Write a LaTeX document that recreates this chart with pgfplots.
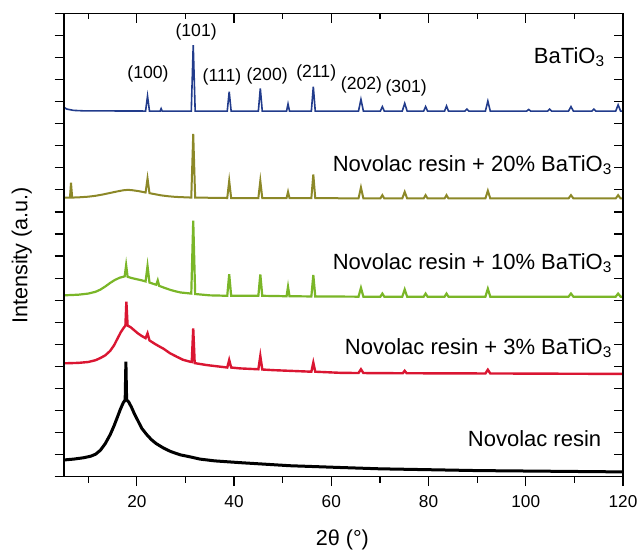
\documentclass[border=0pt]{standalone}
\usepackage{fontspec}
\setmainfont{Liberation Sans}
\usepackage{pgfplots}
\pgfplotsset{compat=1.18}
\definecolor{cblue}{RGB}{34,60,140}
\definecolor{colive}{RGB}{140,136,40}
\definecolor{clime}{RGB}{122,182,40}
\definecolor{cred}{RGB}{218,22,50}
\begin{document}
\begin{tikzpicture}
\pgfplotsset{
  common/.style={
    scale only axis, width=279.5pt, height=231.7pt,
    xmin=5, xmax=120, ymin=0, ymax=21,
    xtick={20,40,...,120}, minor xtick={10,30,...,110},
    ytick={0,1,...,21},
    major tick length=4.7pt, minor tick length=3pt,
    every tick/.style={black, line width=0.6pt},
    axis line style={line width=0.7pt},
  }
}
\begin{axis}[common,
  yticklabels={},
  xtick pos=bottom, ytick pos=left, tick align=outside,
  /pgf/number format/assume math mode=true,
  tick label style={font=\fontsize{8.6}{10}\selectfont},
  xticklabel shift=1.2pt,
  xlabel={2θ (°)}, ylabel={Intensity (a.u.)},
  label style={font=\fontsize{10.8}{13}\selectfont},
  xlabel style={at={(axis description cs:0.498,-0.136)}, anchor=center},
  ylabel style={at={(axis description cs:-0.0755,0.478)}, anchor=center},
  clip=true,
]
% BaTiO3
\addplot[cblue, line width=0.8pt] coordinates {
(5,16.74)(5.6,16.66)(7,16.6)(9,16.58)(21.8,16.57)(22.2,17.25)(22.6,16.57)(24.8,16.57)(25.0,16.68)(25.2,16.57)
(31.2,16.57)(31.6,19.56)(32.0,16.57)(38.6,16.57)(39.0,17.45)(39.4,16.57)(45.0,16.57)(45.4,17.6)(45.8,16.57)
(50.8,16.57)(51.1,16.89)(51.4,16.57)(55.9,16.57)(56.3,17.67)(56.7,16.57)(65.6,16.57)(66.1,17.1)(66.6,16.57)
(70.1,16.57)(70.5,16.77)(70.9,16.57)(74.6,16.57)(75.1,16.92)(75.6,16.57)(79.0,16.57)(79.4,16.77)(79.8,16.57)
(83.3,16.57)(83.7,16.8)(84.1,16.57)(87.5,16.57)(87.9,16.66)(88.3,16.57)(91.7,16.57)(92.2,17.02)(92.7,16.57)
(100.2,16.57)(100.6,16.64)(101.0,16.57)(104.5,16.57)(104.9,16.66)(105.3,16.57)(108.8,16.57)(109.3,16.77)(109.8,16.57)
(113.6,16.57)(114,16.66)(114.4,16.57)(118.5,16.57)(119,16.85)(119.5,16.57)(120,16.57)};
% 20%
\addplot[colive, line width=1.0pt] coordinates {
(5,12.65)(6.25,12.65)(6.46,13.32)(6.7,12.65)(8,12.66)(10,12.69)(11.5,12.73)(13,12.79)(14.5,12.86)(16,12.93)(17.2,12.98)(18.2,13.0)(19.2,12.98)(20.4,12.94)
(21.8,12.88)(22.2,13.52)(22.6,12.85)(23.8,12.8)(25,12.75)(26.5,12.71)(28,12.68)(31.2,12.65)(31.6,15.53)(32,12.65)
(38.6,12.63)(39,13.41)(39.4,12.63)(45,12.63)(45.4,13.41)(45.8,12.63)(50.8,12.63)(51.1,12.91)(51.4,12.63)
(55.9,12.63)(56.3,13.70)(56.7,12.63)(65.6,12.61)(66.1,13.11)(66.6,12.61)(70.1,12.61)(70.5,12.76)(70.9,12.61)
(74.6,12.61)(75.1,12.91)(75.6,12.61)(79.0,12.61)(79.4,12.76)(79.8,12.61)(83.3,12.61)(83.7,12.76)(84.1,12.61)
(91.7,12.61)(92.2,12.96)(92.7,12.61)(108.8,12.61)(109.3,12.76)(109.8,12.61)(118.5,12.61)(119,12.76)(119.5,12.61)(120,12.61)};
% 10%
\addplot[clime, line width=1.1pt] coordinates {
(5,8.22)(8,8.25)(10,8.3)(11.5,8.38)(12.5,8.48)(13.5,8.62)(14.5,8.78)(15.5,8.92)(16.5,9.02)(17.5,9.08)(17.8,9.59)(18.1,9.06)
(19,9.0)(20,8.95)(21,8.9)(21.8,8.85)(22.2,9.55)(22.6,8.8)(23.4,8.74)(24,8.7)(24.3,8.9)(24.6,8.65)(25.8,8.55)(27,8.46)(28,8.4)(29,8.35)(31.2,8.3)(31.6,11.6)(32,8.28)
(35,8.22)(38.6,8.2)(39,9.18)(39.4,8.2)(45,8.2)(45.4,9.17)(45.8,8.2)(50.8,8.18)(51.1,8.61)(51.4,8.18)
(55.9,8.17)(56.3,9.14)(56.7,8.17)(65.6,8.16)(66.1,8.56)(66.6,8.16)(70.1,8.16)(70.5,8.3)(70.9,8.16)
(74.6,8.16)(75.1,8.49)(75.6,8.16)(79.0,8.16)(79.4,8.3)(79.8,8.16)(83.3,8.16)(83.7,8.3)(84.1,8.16)
(91.7,8.16)(92.2,8.52)(92.7,8.16)(108.8,8.16)(109.3,8.3)(109.8,8.16)(118.5,8.16)(119,8.3)(119.5,8.16)(120,8.16)};
% 3%
\addplot[cred, line width=1.2pt] coordinates {
(5,5.14)(8,5.16)(10,5.2)(11.5,5.28)(12.5,5.38)(13.5,5.5)(14.5,5.7)(15.3,5.95)(16,6.25)(16.7,6.55)(17.3,6.75)(17.65,6.85)(17.85,7.93)(18.1,6.85)
(18.7,6.78)(19.4,6.65)(20.2,6.5)(21,6.38)(21.8,6.28)(22.2,6.5)(22.6,6.18)(23.5,6.05)(24.5,5.92)(25.5,5.8)(26.8,5.6)(28.2,5.44)(29.5,5.3)(31,5.21)(31.3,5.2)(31.6,6.72)(31.9,5.15)
(34.4,5.06)(38.6,4.95)(39,5.29)(39.4,4.95)(41.2,4.91)(45,4.87)(45.4,5.47)(45.8,4.86)(48.1,4.83)
(55.9,4.76)(56.3,5.17)(56.7,4.76)(61.8,4.71)(65.6,4.70)(66.1,4.87)(66.6,4.70)(74.7,4.69)(75.1,4.8)(75.5,4.69)
(91.7,4.68)(92.2,4.85)(92.7,4.68)(120,4.66)};
% Novolac resin
\addplot[black, line width=1.5pt] coordinates {
(5,0.76)(7,0.8)(9,0.86)(10.5,0.93)(11.5,1.02)(12.5,1.2)(13.5,1.5)(14.5,1.9)(15.3,2.3)(16,2.7)(16.6,3.05)(17.2,3.35)(17.6,3.48)(17.75,5.21)(17.9,3.48)
(18.3,3.4)(18.9,3.15)(19.5,2.85)(20.2,2.55)(21,2.2)(22,1.92)(23,1.68)(24,1.5)(25.5,1.3)(27,1.14)(29,0.99)(31,0.9)(33,0.8)(36,0.72)
(41.2,0.64)(51.5,0.5)(61.8,0.42)(70,0.36)(80,0.32)(90,0.28)(100,0.26)(110,0.24)(120,0.22)};
% labels
\begin{scope}[font=\fontsize{8.8}{10}\selectfont]
\node at (axis cs:32.2,20.15) {(101)};
\node at (axis cs:22.3,18.24) {(100)};
\node at (axis cs:37.5,18.11) {(111)};
\node at (axis cs:46.8,18.16) {(200)};
\node at (axis cs:56.9,18.29) {(211)};
\node at (axis cs:66.2,17.75) {(202)};
\node at (axis cs:75.4,17.6) {(301)};
\end{scope}
\begin{scope}[font=\fontsize{11}{13}\selectfont, inner sep=0pt]
\node[anchor=east] at (axis cs:116.4,19.02) {BaTiO\textsubscript{3}};
\node[anchor=east] at (axis cs:117.9,14.11) {Novolac resin + 20\% BaTiO\textsubscript{3}};
\node[anchor=east] at (axis cs:117.9,9.67) {Novolac resin + 10\% BaTiO\textsubscript{3}};
\node[anchor=east] at (axis cs:117.9,5.83) {Novolac resin + 3\% BaTiO\textsubscript{3}};
\node[anchor=east] at (axis cs:115.6,1.75) {Novolac resin};
\end{scope}
\end{axis}
\begin{axis}[common,
  xticklabels={}, yticklabels={},
  xtick pos=top, ytick pos=right, tick align=inside,
]
\end{axis}
\pgfresetboundingbox
\path ([xshift=-31.95pt,yshift=-36.15pt]current axis.south west) rectangle ([xshift=8pt,yshift=6.65pt]current axis.north east);
\end{tikzpicture}
\end{document}
